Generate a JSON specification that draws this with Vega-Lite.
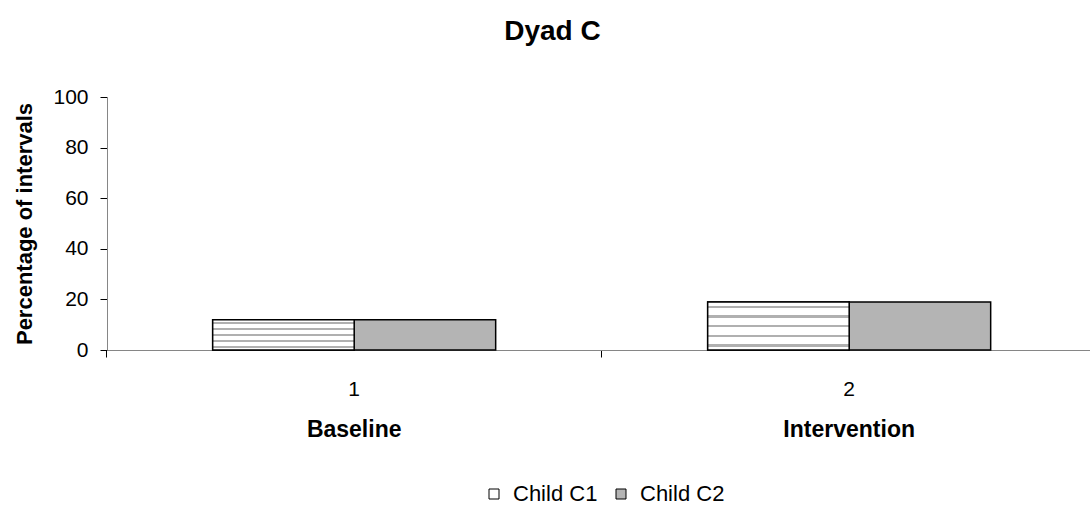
{
  "$schema": "https://vega.github.io/schema/vega-lite/v6.json",
  "width": 984,
  "height": 253,
  "padding": {"left": 13, "top": 18, "right": 0, "bottom": 0},
  "config": {
    "font": "Liberation Sans",
    "view": {"stroke": null},
    "axis": {"labelFont": "Liberation Sans", "titleFont": "Liberation Sans", "labelColor": "#000000", "titleColor": "#000000"}
  },
  "title": {"text": "Dyad C", "fontSize": 28, "fontWeight": "bold", "font": "Liberation Sans", "color": "#000000", "offset": 40, "anchor": "middle", "frame": "bounds"},
  "data": {
    "values": [
      {"phase": "Baseline", "series": "Child C1", "value": 12},
      {"phase": "Baseline", "series": "Child C2", "value": 12},
      {"phase": "Intervention", "series": "Child C1", "value": 19},
      {"phase": "Intervention", "series": "Child C2", "value": 19}
    ]
  },
  "resolve": {"axis": {"x": "independent"}},
  "layer": [
    {
      "mark": {"type": "bar", "stroke": "#000000", "strokeWidth": 1.5},
      "encoding": {
        "x": {
          "field": "phase", "type": "nominal",
          "scale": {"domain": ["Baseline", "Intervention"], "paddingInner": 0.4283, "paddingOuter": 0.2081, "align": 0.513},
          "axis": {"title": null, "orient": "bottom", "labelAngle": 0, "labelExpr": "datum.value == 'Baseline' ? '1' : '2'", "labelFontSize": 21, "labelPadding": 28, "domain": false, "ticks": false}
        },
        "xOffset": {"field": "series", "type": "nominal", "scale": {"domain": ["Child C1", "Child C2"], "paddingInner": 0, "paddingOuter": 0}},
        "y": {
          "field": "value", "type": "quantitative",
          "scale": {"domain": [0, 100]},
          "axis": {"title": "Percentage of intervals", "titleFontSize": 22, "titleFontWeight": "bold", "titlePadding": 16, "values": [0, 20, 40, 60, 80, 100], "grid": false, "labelFontSize": 21, "domainColor": "#868686", "tickColor": "#000000", "tickSize": 7, "labelPadding": 12}
        },
        "color": {
          "field": "series", "type": "nominal",
          "scale": {"domain": ["Child C1", "Child C2"], "range": ["#ffffff", "#b4b4b4"]},
          "legend": {"title": null, "orient": "none", "legendX": 376, "legendY": 386, "direction": "horizontal", "symbolType": "square", "symbolStrokeColor": "#000000", "symbolStrokeWidth": 1, "symbolSize": 100, "labelFontSize": 22, "labelColor": "#000000", "labelFont": "Liberation Sans", "labelOffset": 8, "columnPadding": 12, "symbolOpacity": 1}
        }
      }
    },
    {
      "transform": [{"filter": "datum.series == 'Child C1'"}],
      "mark": {"type": "bar", "stroke": "#000000", "strokeWidth": 1.5},
      "encoding": {
        "x": {"field": "phase", "type": "nominal",
          "axis": {"title": null, "orient": "bottom", "labels": false, "bandPosition": -0.3735, "domainColor": "#868686", "tickColor": "#000000", "tickSize": 7}
        },
        "xOffset": {"field": "series", "type": "nominal"},
        "y": {"field": "value", "type": "quantitative"},
        "fill": {"value": {
          "gradient": "linear", "x1": 0, "y1": 0, "x2": 0, "y2": 1,
          "stops": [
            {"offset": 0, "color": "#ffffff"},
            {"offset": 0.08, "color": "#ffffff"},
            {"offset": 0.08, "color": "#b0b0b0"},
            {"offset": 0.13, "color": "#b0b0b0"},
            {"offset": 0.13, "color": "#ffffff"},
            {"offset": 0.28, "color": "#ffffff"},
            {"offset": 0.28, "color": "#b0b0b0"},
            {"offset": 0.33, "color": "#b0b0b0"},
            {"offset": 0.33, "color": "#ffffff"},
            {"offset": 0.48, "color": "#ffffff"},
            {"offset": 0.48, "color": "#b0b0b0"},
            {"offset": 0.53, "color": "#b0b0b0"},
            {"offset": 0.53, "color": "#ffffff"},
            {"offset": 0.68, "color": "#ffffff"},
            {"offset": 0.68, "color": "#b0b0b0"},
            {"offset": 0.73, "color": "#b0b0b0"},
            {"offset": 0.73, "color": "#ffffff"},
            {"offset": 0.88, "color": "#ffffff"},
            {"offset": 0.88, "color": "#b0b0b0"},
            {"offset": 0.93, "color": "#b0b0b0"},
            {"offset": 0.93, "color": "#ffffff"},
            {"offset": 1, "color": "#ffffff"}
          ]
        }}
      }
    },
    {
      "mark": {"type": "tick", "opacity": 0},
      "encoding": {
        "x": {
          "field": "phase", "type": "nominal",
          "axis": {"title": null, "orient": "bottom", "offset": 66, "domain": false, "ticks": false, "labelAngle": 0, "labelFontSize": 23, "labelFontWeight": "bold", "labelColor": "#000000", "labelFont": "Liberation Sans", "labelPadding": 2}
        },
        "y": {"field": "value", "type": "quantitative"}
      }
    }
  ]
}
